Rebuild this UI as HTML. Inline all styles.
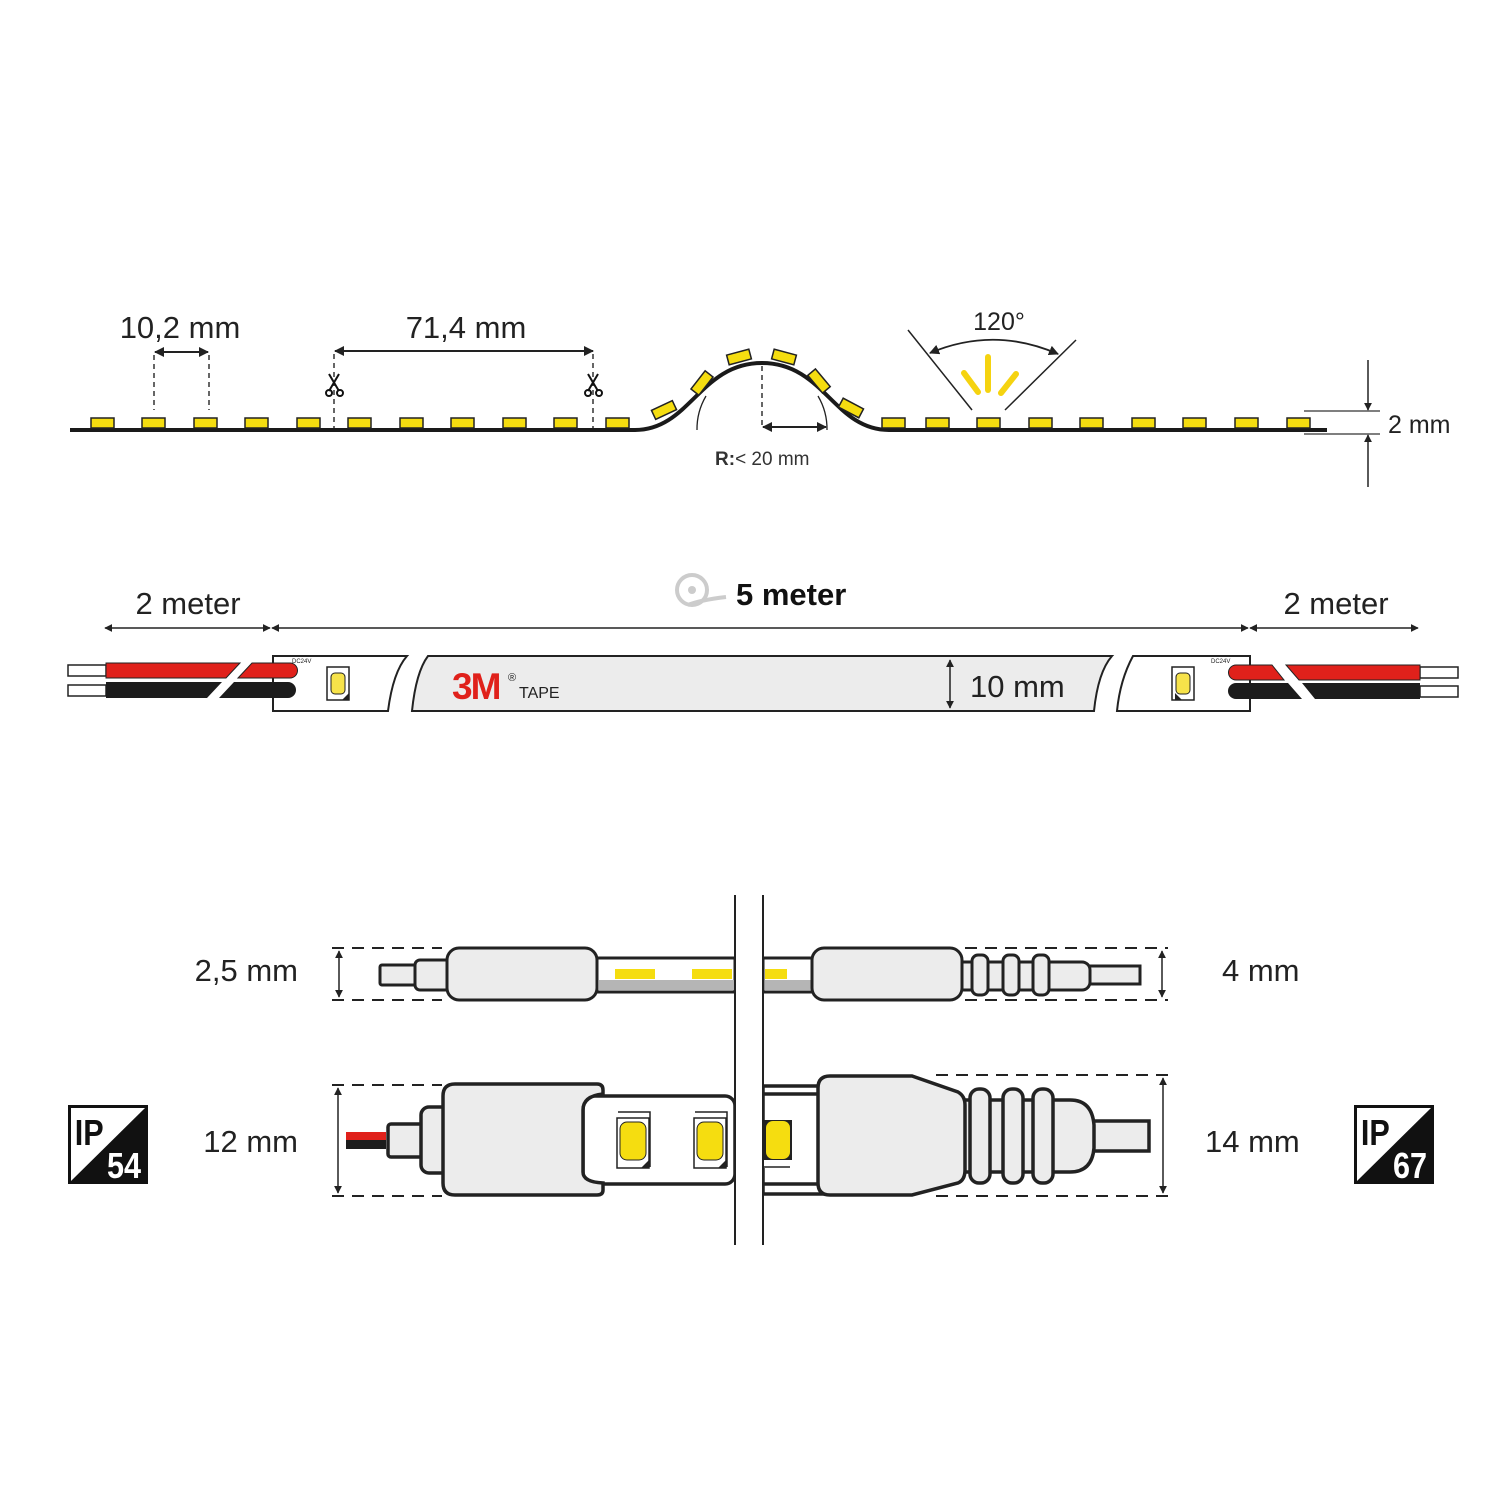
<!DOCTYPE html>
<html><head><meta charset="utf-8"><style>
html,body{margin:0;padding:0;background:#fff}
svg{display:block}
text{font-family:"Liberation Sans",sans-serif}
</style></head><body>
<svg width="1500" height="1500" viewBox="0 0 1500 1500" xmlns="http://www.w3.org/2000/svg">
<defs>
<marker id="ar" viewBox="0 0 10 10" refX="9" refY="5" markerWidth="10" markerHeight="10" markerUnits="userSpaceOnUse" orient="auto-start-reverse"><path d="M0,0 L10,5 L0,10 z" fill="#222"/></marker>
<marker id="as" viewBox="0 0 10 10" refX="9" refY="5" markerWidth="8" markerHeight="8" markerUnits="userSpaceOnUse" orient="auto-start-reverse"><path d="M0,0 L10,5 L0,10 z" fill="#222"/></marker>
</defs>
<rect width="1500" height="1500" fill="#fff"/>

<!-- ===== TOP STRIP ===== -->
<path d="M70,430 L635,430 C690,430 700,363 762,363 C824,363 834,430 889,430 L1327,430" fill="none" stroke="#1a1a1a" stroke-width="4"/>
<g fill="#f5dd10" stroke="#222" stroke-width="1.5">
<rect x="91" y="418" width="23" height="10"/>
<rect x="142" y="418" width="23" height="10"/>
<rect x="194" y="418" width="23" height="10"/>
<rect x="245" y="418" width="23" height="10"/>
<rect x="297" y="418" width="23" height="10"/>
<rect x="348" y="418" width="23" height="10"/>
<rect x="400" y="418" width="23" height="10"/>
<rect x="451" y="418" width="23" height="10"/>
<rect x="503" y="418" width="23" height="10"/>
<rect x="554" y="418" width="23" height="10"/>
<rect x="606" y="418" width="23" height="10"/>
<rect x="882" y="418" width="23" height="10"/>
<rect x="926" y="418" width="23" height="10"/>
<rect x="977" y="418" width="23" height="10"/>
<rect x="1029" y="418" width="23" height="10"/>
<rect x="1080" y="418" width="23" height="10"/>
<rect x="1132" y="418" width="23" height="10"/>
<rect x="1183" y="418" width="23" height="10"/>
<rect x="1235" y="418" width="23" height="10"/>
<rect x="1287" y="418" width="23" height="10"/>
<rect x="-11.5" y="-5" width="23" height="10" transform="translate(664,410) rotate(-25)"/>
<rect x="-11.5" y="-5" width="23" height="10" transform="translate(702,383) rotate(-52)"/>
<rect x="-11.5" y="-5" width="23" height="10" transform="translate(739,357) rotate(-15)"/>
<rect x="-11.5" y="-5" width="23" height="10" transform="translate(784,357) rotate(15)"/>
<rect x="-11.5" y="-5" width="23" height="10" transform="translate(819,381) rotate(50)"/>
<rect x="-11.5" y="-5" width="23" height="10" transform="translate(851,408) rotate(28)"/>
</g>
<text x="180" y="338" font-size="31" text-anchor="middle" fill="#222">10,2 mm</text>
<line x1="155" y1="352" x2="208" y2="352" stroke="#222" stroke-width="2" marker-start="url(#ar)" marker-end="url(#ar)"/>
<line x1="154" y1="355" x2="154" y2="410" stroke="#333" stroke-width="1.5" stroke-dasharray="5,4"/>
<line x1="209" y1="355" x2="209" y2="410" stroke="#333" stroke-width="1.5" stroke-dasharray="5,4"/>
<text x="466" y="338" font-size="31" text-anchor="middle" fill="#222">71,4 mm</text>
<line x1="335" y1="351" x2="593" y2="351" stroke="#222" stroke-width="2" marker-start="url(#ar)" marker-end="url(#ar)"/>
<line x1="334" y1="354" x2="334" y2="428" stroke="#333" stroke-width="1.5" stroke-dasharray="5,4"/>
<line x1="593" y1="354" x2="593" y2="428" stroke="#333" stroke-width="1.5" stroke-dasharray="5,4"/>
<g stroke="#111" stroke-width="2" fill="none">
<path d="M329,374 L339,391 M339,374 L329,391"/><circle cx="329" cy="393" r="3"/><circle cx="340" cy="393" r="3"/>
<path d="M588,374 L598,391 M598,374 L588,391"/><circle cx="588" cy="393" r="3"/><circle cx="599" cy="393" r="3"/>
</g>
<path d="M697,430 A65,65 0 0 1 706,396" fill="none" stroke="#222" stroke-width="1.3"/>
<path d="M827,430 A65,65 0 0 0 818,396" fill="none" stroke="#222" stroke-width="1.3"/>
<line x1="762" y1="366" x2="762" y2="425" stroke="#333" stroke-width="1.5" stroke-dasharray="5,4"/>
<line x1="763" y1="427" x2="826" y2="427" stroke="#222" stroke-width="2" marker-start="url(#ar)" marker-end="url(#ar)"/>
<text x="715" y="465" font-size="19" fill="#333"><tspan font-weight="bold">R:</tspan>&lt; 20 mm</text>
<text x="999" y="330" font-size="25" text-anchor="middle" fill="#222">120°</text>
<line x1="908" y1="330" x2="972" y2="410" stroke="#222" stroke-width="1.5"/>
<line x1="1076" y1="340" x2="1005" y2="410" stroke="#222" stroke-width="1.5"/>
<path d="M930,353 Q994,326 1058,354" fill="none" stroke="#222" stroke-width="1.8" marker-start="url(#ar)" marker-end="url(#ar)"/>
<g stroke="#f5d310" stroke-width="6" stroke-linecap="round">
<line x1="988" y1="357" x2="988" y2="390"/>
<line x1="964" y1="373" x2="978" y2="392"/>
<line x1="1016" y1="374" x2="1001" y2="393"/>
</g>
<line x1="1304" y1="411" x2="1380" y2="411" stroke="#333" stroke-width="1.3"/>
<line x1="1304" y1="434" x2="1380" y2="434" stroke="#333" stroke-width="1.3"/>
<line x1="1368" y1="360" x2="1368" y2="410" stroke="#222" stroke-width="1.5" marker-end="url(#as)"/>
<line x1="1368" y1="487" x2="1368" y2="435" stroke="#222" stroke-width="1.5" marker-end="url(#as)"/>
<text x="1388" y="433" font-size="25" fill="#222">2 mm</text>

<!-- ===== MIDDLE ===== -->
<text x="188" y="614" font-size="31" text-anchor="middle" fill="#222">2 meter</text>
<text x="1336" y="614" font-size="31" text-anchor="middle" fill="#222">2 meter</text>
<text x="736" y="605" font-size="31" fill="#111" font-weight="bold">5 meter</text>
<g fill="none" stroke="#ccc" stroke-width="4">
<circle cx="692" cy="590" r="15"/>
<path d="M688,605 Q700,600 726,597"/>
</g>
<g fill="#ccc"><circle cx="692" cy="590" r="4"/></g>
<line x1="105" y1="628" x2="270" y2="628" stroke="#222" stroke-width="1.5" marker-start="url(#as)" marker-end="url(#as)"/>
<line x1="272" y1="628" x2="1248" y2="628" stroke="#222" stroke-width="1.5" marker-start="url(#as)" marker-end="url(#as)"/>
<line x1="1250" y1="628" x2="1418" y2="628" stroke="#222" stroke-width="1.5" marker-start="url(#as)" marker-end="url(#as)"/>

<!-- left piece -->
<path d="M273,656 L407,656 Q393,672 388,711 L273,711 Z" fill="#fff" stroke="#222" stroke-width="2"/>
<text x="292" y="663" font-size="6" fill="#222">DC24V</text>
<rect x="327" y="667" width="22" height="33" fill="#fff" stroke="#222" stroke-width="1.5"/>
<rect x="331" y="673" width="14" height="21" rx="4" fill="#f7e34a" stroke="#222" stroke-width="1"/>
<path d="M342,700 L349,693 L349,700 Z" fill="#222"/>
<!-- left wires -->
<g stroke="#222" stroke-width="1.5">
<rect x="68" y="665" width="38" height="11" fill="#fff"/>
<rect x="68" y="685" width="38" height="11" fill="#fff"/>
</g>
<path d="M106,663 L240,663 L226,678 L106,678 Z" fill="#e0211b" stroke="#222" stroke-width="1"/>
<path d="M252,663 L290,663 A7.5,7.5 0 0 1 290,678 L238,678 Z" fill="#e0211b" stroke="#222" stroke-width="1"/>
<path d="M106,682 L222,682 L207,698 L106,698 Z" fill="#1c1c1c"/>
<path d="M234,682 L288,682 A8,8 0 0 1 288,698 L219,698 Z" fill="#1c1c1c"/>
<!-- main tape -->
<path d="M428,656 L1112,656 Q1098,672 1094,711 L412,711 Q416,672 428,656 Z" fill="#ececec" stroke="#222" stroke-width="2"/>
<text x="452" y="699" font-size="37" font-weight="bold" fill="#e0211b" letter-spacing="-2">3M</text>
<text x="508" y="681" font-size="11" fill="#222">®</text>
<text x="519" y="698" font-size="16" fill="#222">TAPE</text>
<line x1="950" y1="660" x2="950" y2="708" stroke="#222" stroke-width="1.5" marker-start="url(#as)" marker-end="url(#as)"/>
<text x="970" y="697" font-size="31" fill="#222">10 mm</text>
<!-- right piece -->
<path d="M1133,656 L1250,656 L1250,711 L1117,711 Q1120,680 1133,656 Z" fill="#fff" stroke="#222" stroke-width="2"/>
<text x="1211" y="663" font-size="6" fill="#222">DC24V</text>
<rect x="1172" y="667" width="22" height="33" fill="#fff" stroke="#222" stroke-width="1.5"/>
<rect x="1176" y="673" width="14" height="21" rx="4" fill="#f7e34a" stroke="#222" stroke-width="1"/>
<path d="M1175,700 L1175,693 L1182,700 Z" fill="#222"/>
<g stroke="#222" stroke-width="1.5">
<rect x="1420" y="667" width="38" height="11" fill="#fff"/>
<rect x="1420" y="686" width="38" height="11" fill="#fff"/>
</g>
<path d="M1236,665 L1272,665 L1284,680 L1236,680 A7.5,7.5 0 0 1 1236,665 Z" fill="#e0211b" stroke="#222" stroke-width="1"/>
<path d="M1286,665 L1420,665 L1420,680 L1299,680 Z" fill="#e0211b" stroke="#222" stroke-width="1"/>
<path d="M1236,683 L1288,683 L1302,699 L1236,699 A8,8 0 0 1 1236,683 Z" fill="#1c1c1c"/>
<path d="M1302,683 L1420,683 L1420,699 L1315,699 Z" fill="#1c1c1c"/>

<!-- ===== BOTTOM ===== -->
<g stroke="#222" stroke-width="2" stroke-dasharray="12,8">
<line x1="332" y1="948" x2="442" y2="948"/><line x1="332" y1="1000" x2="442" y2="1000"/>
<line x1="965" y1="948" x2="1168" y2="948"/><line x1="965" y1="1000" x2="1168" y2="1000"/>
<line x1="332" y1="1085" x2="442" y2="1085"/><line x1="332" y1="1196" x2="442" y2="1196"/>
<line x1="936" y1="1075" x2="1168" y2="1075"/><line x1="936" y1="1196" x2="1168" y2="1196"/>
</g>
<line x1="339" y1="951" x2="339" y2="997" stroke="#222" stroke-width="1.5" marker-start="url(#as)" marker-end="url(#as)"/>
<line x1="1162" y1="951" x2="1162" y2="997" stroke="#222" stroke-width="1.5" marker-start="url(#as)" marker-end="url(#as)"/>
<line x1="338" y1="1088" x2="338" y2="1193" stroke="#222" stroke-width="1.5" marker-start="url(#as)" marker-end="url(#as)"/>
<line x1="1163" y1="1078" x2="1163" y2="1193" stroke="#222" stroke-width="1.5" marker-start="url(#as)" marker-end="url(#as)"/>
<text x="298" y="981" font-size="31" text-anchor="end" fill="#222">2,5 mm</text>
<text x="1222" y="981" font-size="31" fill="#222">4 mm</text>
<text x="298" y="1152" font-size="31" text-anchor="end" fill="#222">12 mm</text>
<text x="1205" y="1152" font-size="31" fill="#222">14 mm</text>

<g stroke="#222" stroke-width="3" fill="#ececec">
<rect x="597" y="958" width="138" height="34" fill="#fff"/>
<rect x="615" y="969" width="40" height="10" fill="#f5dd10" stroke="none"/>
<rect x="692" y="969" width="40" height="10" fill="#f5dd10" stroke="none"/>
<rect x="599" y="980" width="136" height="10" fill="#b5b5b5" stroke="none"/>
<rect x="380" y="965" width="38" height="20" rx="2"/>
<rect x="415" y="960" width="36" height="30" rx="5"/>
<rect x="447" y="948" width="150" height="52" rx="12"/>
<rect x="763" y="958" width="52" height="34" fill="#fff"/>
<rect x="765" y="969" width="22" height="10" fill="#f5dd10" stroke="none"/>
<rect x="765" y="980" width="48" height="10" fill="#b5b5b5" stroke="none"/>
<rect x="1085" y="966" width="55" height="18"/>
<rect x="955" y="962" width="135" height="28" rx="8"/>
<rect x="972" y="955" width="16" height="40" rx="6"/>
<rect x="1003" y="955" width="16" height="40" rx="6"/>
<rect x="1033" y="955" width="16" height="40" rx="6"/>
<rect x="812" y="948" width="150" height="52" rx="12"/>
</g>

<rect x="346" y="1132" width="40" height="8" fill="#e0211b"/>
<rect x="346" y="1140" width="40" height="9" fill="#1c1c1c"/>
<g stroke="#222" stroke-width="3.5" fill="#ececec">
<rect x="583" y="1096" width="152" height="88" rx="10" fill="#fff"/>
<rect x="388" y="1124" width="40" height="33" rx="3"/>
<rect x="421" y="1107" width="36" height="66" rx="8"/>
<path d="M455,1084 L597,1084 Q603,1084 603,1090 L603,1094 Q583,1096 583,1110 L583,1172 Q583,1182 603,1183 L603,1190 Q603,1195 597,1195 L455,1195 Q443,1195 443,1183 L443,1096 Q443,1084 455,1084 Z"/>
</g>
<g>
<rect x="617" y="1118" width="32" height="50" fill="#fff" stroke="#222" stroke-width="1.5"/>
<path d="M618,1112 L650,1112 L650,1167" fill="none" stroke="#222" stroke-width="1.5"/>
<rect x="620" y="1122" width="26" height="38" rx="7" fill="#f5dd10" stroke="#222" stroke-width="1"/>
<path d="M641,1168 L649,1160 L649,1168Z" fill="#222"/>
<rect x="694" y="1118" width="32" height="50" fill="#fff" stroke="#222" stroke-width="1.5"/>
<path d="M695,1112 L727,1112 L727,1167" fill="none" stroke="#222" stroke-width="1.5"/>
<rect x="697" y="1122" width="26" height="38" rx="7" fill="#f5dd10" stroke="#222" stroke-width="1"/>
<path d="M718,1168 L726,1160 L726,1168Z" fill="#222"/>
</g>
<g stroke="#222" stroke-width="3.5" fill="#ececec">
<rect x="763" y="1086" width="60" height="108" fill="#fff"/>
<line x1="763" y1="1094" x2="818" y2="1094"/>
<line x1="763" y1="1184" x2="818" y2="1184"/>
</g>
<rect x="764" y="1120" width="28" height="45" fill="#222"/>
<rect x="766" y="1121" width="24" height="38" rx="7" fill="#f5dd10"/>
<rect x="764" y="1160" width="28" height="8" fill="#fff"/>
<line x1="764" y1="1167" x2="790" y2="1167" stroke="#222" stroke-width="1.5"/>
<g stroke="#222" stroke-width="3.5" fill="#ececec">
<rect x="1093" y="1121" width="56" height="30"/>
<path d="M960,1100 L1070,1100 Q1092,1100 1094,1125 L1094,1148 Q1092,1172 1070,1172 L960,1172 Z"/>
<rect x="970" y="1089" width="20" height="94" rx="9"/>
<rect x="1003" y="1089" width="20" height="94" rx="9"/>
<rect x="1033" y="1089" width="20" height="94" rx="9"/>
<path d="M830,1076 L912,1076 L958,1092 Q965,1096 965,1105 L965,1170 Q965,1180 958,1183 L912,1195 L830,1195 Q818,1195 818,1183 L818,1088 Q818,1076 830,1076 Z"/>
</g>
<rect x="736" y="895" width="26" height="350" fill="#fff"/>
<line x1="735" y1="895" x2="735" y2="1245" stroke="#222" stroke-width="2"/>
<line x1="763" y1="895" x2="763" y2="1245" stroke="#222" stroke-width="2"/>

<g>
<rect x="68" y="1105" width="80" height="79" fill="#111"/>
<path d="M71,1108 L145,1108 L71,1181 Z" fill="#fff"/>
<text x="75" y="1145" font-size="36" font-weight="bold" fill="#111" transform="scale(0.85,1) translate(13,0)">IP</text>
<text x="107" y="1178" font-size="36" font-weight="bold" fill="#fff" transform="translate(16,0) scale(0.85,1)">54</text>
<rect x="1354" y="1105" width="80" height="79" fill="#111"/>
<path d="M1357,1108 L1431,1108 L1357,1181 Z" fill="#fff"/>
<text x="1361" y="1145" font-size="36" font-weight="bold" fill="#111" transform="translate(204,0) scale(0.85,1)">IP</text>
<text x="1393" y="1178" font-size="36" font-weight="bold" fill="#fff" transform="translate(209,0) scale(0.85,1)">67</text>
</g>
</svg>
</body></html>
